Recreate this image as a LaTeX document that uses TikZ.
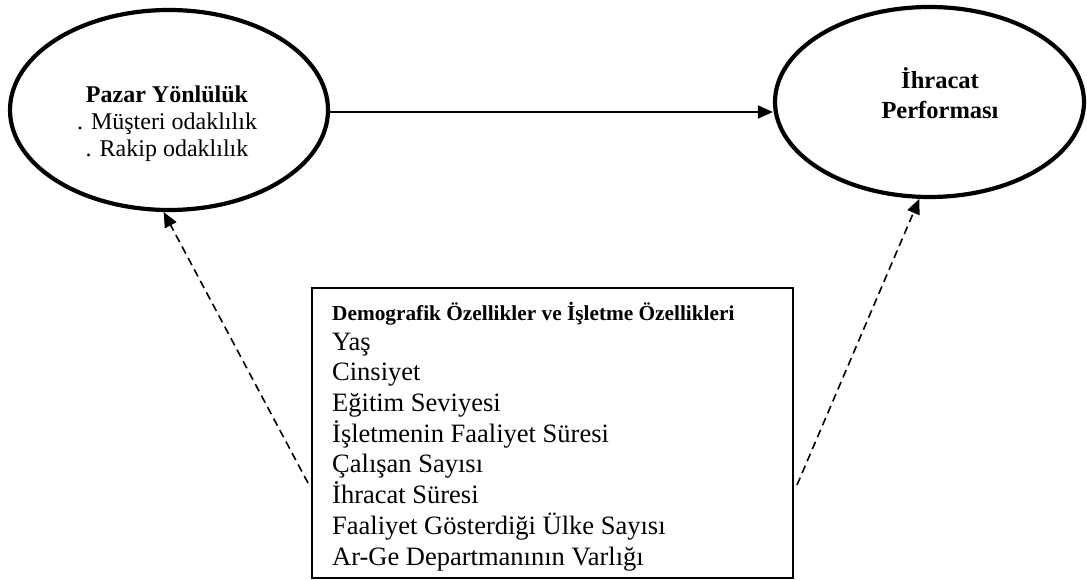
\documentclass[tikz,border=0pt]{standalone}
\usepackage{fontspec}
\setmainfont{Liberation Serif}
\usetikzlibrary{shapes.geometric,arrows.meta}
\tikzset{
  ell/.style={draw, ellipse, line width=4.2pt, inner sep=0pt},
  solidarrow/.style={line width=1.9pt, -{Triangle[length=15pt,width=13pt]}},
  dasharrow/.style={line width=1.6pt, dash pattern=on 8pt off 5pt, -{Triangle[length=15pt,width=13pt]}},
  listbox/.style={draw, line width=1.9pt, rectangle, inner sep=0pt},
}
\begin{document}
\begin{tikzpicture}[x=1pt,y=-1pt]
\useasboundingbox (0,0) rectangle (1087,580);
\node[ell, minimum width=318pt, minimum height=200pt] (lp) at (169,110) {};
\node[ell, minimum width=309pt, minimum height=190pt] (ep) at (929.5,102) {};
\node[align=center, font=\fontsize{24}{27}\selectfont, inner sep=0pt] (lptext) at (167,124)
  {\textbf{Pazar Yönlülük}\\. Müşteri odaklılık\\. Rakip odaklılık};
\node[align=center, font=\fontsize{24.5}{30}\selectfont\bfseries, inner sep=0pt] (eptext) at (940,93)
  {İhracat\\Performası};
\node[listbox, minimum width=481pt, minimum height=290pt] (box) at (552.5,433) {};
\node[anchor=north west, align=left, inner sep=0pt, font=\fontsize{26.5}{30.7}\selectfont] (boxtext) at (332,302)
  {{\fontsize{21.3}{24}\selectfont\bfseries Demografik Özellikler ve İşletme Özellikleri}\\[-1pt]
   Yaş\\Cinsiyet\\Eğitim Seviyesi\\İşletmenin Faaliyet Süresi\\Çalışan Sayısı\\İhracat Süresi\\Faaliyet Gösterdiği Ülke Sayısı\\Ar-Ge Departmanının Varlığı};
\coordinate (dl) at (308,483);
\coordinate (dr) at (797,485);
\draw[solidarrow] ([yshift=-2pt]lp.east) -- ([yshift=-2pt]lp.east -| ep.west);
\draw[dasharrow] (dl) -- (lp.-93);
\draw[dasharrow] (dr) -- (ep.-96);
\end{tikzpicture}
\end{document}
